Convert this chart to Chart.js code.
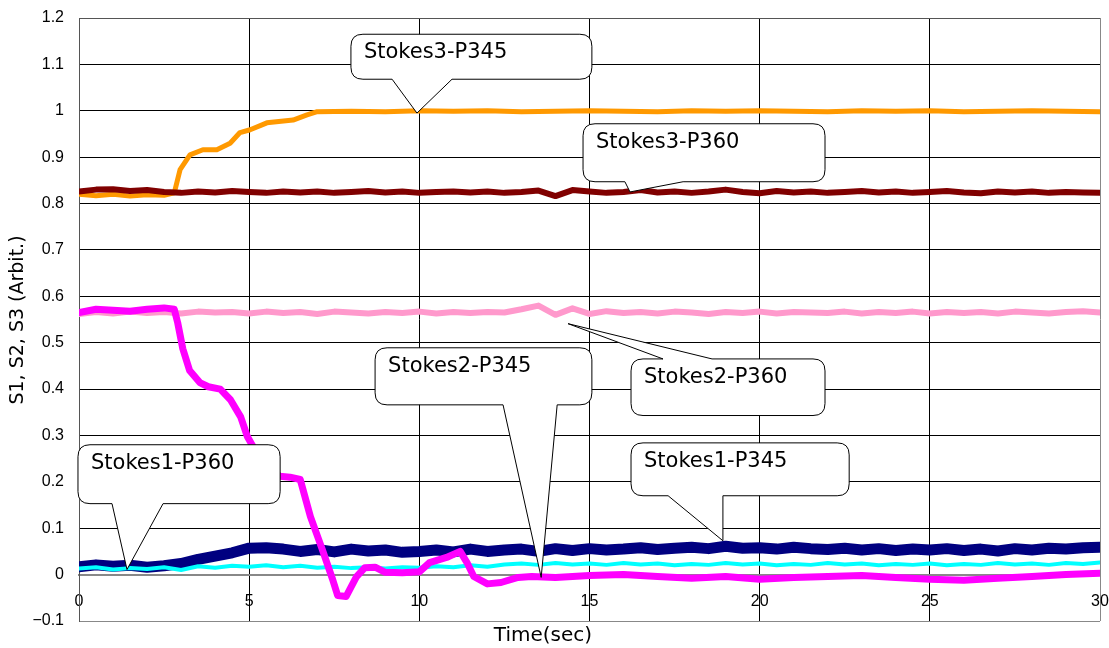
<!DOCTYPE html>
<html>
<head>
<meta charset="utf-8">
<script src="https://cdn.jsdelivr.net/npm/chart.js@4.4.0/dist/chart.umd.min.js"></script>
<style>
  body { margin: 0; background: #fff; }
  canvas { display: block; }
</style>
</head>
<body>
<canvas id="stokes" width="1109" height="648"></canvas>
<script>
// sample times (sec) shared by the noisy, flat traces
var times = [0,0.5,1,1.5,2,2.5,3,3.5,4,4.5,5,5.5,6,6.5,7,7.5,8,8.5,9,9.5,
  10,10.5,11,11.5,12,12.5,13,13.5,14,14.5,15,15.5,16,16.5,17,17.5,18,18.5,19,19.5,
  20,20.5,21,21.5,22,22.5,23,23.5,24,24.5,25,25.5,26,26.5,27,27.5,28,28.5,29,29.5,30];

var s3p360 = [0.826,0.830,0.831,0.827,0.829,0.825,0.823,0.826,0.824,0.827,
  0.825,0.823,0.826,0.824,0.826,0.823,0.825,0.827,0.824,0.826,
  0.823,0.825,0.826,0.824,0.826,0.823,0.825,0.828,0.816,0.829,
  0.826,0.823,0.825,0.829,0.824,0.826,0.823,0.826,0.830,0.825,
  0.822,0.827,0.824,0.826,0.823,0.825,0.827,0.824,0.826,0.823,
  0.825,0.827,0.824,0.822,0.826,0.824,0.826,0.823,0.825,0.824,0.823];

var s2p360 = [0.562,0.566,0.563,0.567,0.564,0.566,0.563,0.567,0.565,0.566,
  0.563,0.567,0.564,0.566,0.562,0.567,0.565,0.563,0.566,0.564,
  0.567,0.563,0.566,0.564,0.566,0.565,0.572,0.580,0.560,0.574,
  0.562,0.568,0.564,0.566,0.563,0.567,0.565,0.562,0.566,0.564,
  0.567,0.563,0.566,0.565,0.564,0.567,0.563,0.566,0.564,0.567,
  0.563,0.566,0.564,0.566,0.563,0.567,0.565,0.563,0.566,0.568,0.565];

var s1p345 = [0.017,0.021,0.018,0.020,0.016,0.019,0.024,0.033,0.040,0.047,
  0.057,0.058,0.055,0.050,0.054,0.049,0.055,0.051,0.053,0.048,
  0.050,0.053,0.049,0.055,0.050,0.053,0.055,0.050,0.056,0.052,
  0.056,0.053,0.055,0.058,0.054,0.057,0.059,0.056,0.061,0.057,
  0.058,0.055,0.059,0.056,0.054,0.057,0.053,0.056,0.052,0.055,
  0.053,0.056,0.052,0.055,0.051,0.056,0.053,0.057,0.055,0.058,0.059];

var s1p360 = [0.013,0.016,0.011,0.014,0.012,0.016,0.010,0.018,0.015,0.019,
  0.017,0.020,0.016,0.019,0.015,0.017,0.014,0.016,0.013,0.016,
  0.015,0.018,0.016,0.020,0.017,0.022,0.024,0.021,0.025,0.022,
  0.024,0.021,0.025,0.022,0.024,0.020,0.023,0.021,0.025,0.022,
  0.024,0.020,0.023,0.021,0.025,0.022,0.024,0.020,0.023,0.021,
  0.024,0.020,0.023,0.021,0.025,0.022,0.024,0.021,0.025,0.023,0.026];

// the two P345 traces that move have their own sample times
var s3p345Times = [0,0.5,1,1.5,2,2.5,2.8,2.97,3.26,3.64,4.05,4.44,4.73,5.03,5.52,6.29,6.7,7,
  8,9,10,11,12,13,14,15,16,17,18,19,20,21,22,23,24,25,26,27,28,29,30];
var s3p345 = [0.820,0.817,0.820,0.816,0.819,0.818,0.823,0.873,0.905,0.916,0.916,0.930,0.953,0.959,0.974,0.980,0.991,0.998,
  0.999,0.998,1.000,0.999,1.000,0.998,0.999,1.000,0.999,0.998,1.000,0.999,1.000,0.999,0.998,1.000,0.999,1.000,0.998,0.999,1.000,0.999,0.998];

var s2p345Times = [0,0.5,1,1.5,2,2.5,2.8,2.9,3.05,3.25,
  3.55,3.8,4.15,4.45,4.75,4.95,5.2,5.5,5.9,6.2,
  6.5,6.8,7.15,7.45,7.6,7.85,8.15,8.4,8.7,9,
  9.5,10,10.3,10.8,11.2,11.4,11.6,12,12.4,12.9,
  13.3,14,15,16,17,18,19,20,21,22,
  23,24,25,26,27,28,29,30];
var s2p345 = [0.565,0.572,0.570,0.568,0.572,0.575,0.572,0.543,0.487,0.440,
  0.414,0.405,0.400,0.377,0.340,0.297,0.265,0.238,0.212,0.210,
  0.205,0.125,0.054,-0.010,-0.045,-0.047,-0.005,0.015,0.016,0.005,
  0.004,0.006,0.026,0.037,0.050,0.026,-0.004,-0.020,-0.017,-0.006,
  -0.004,-0.006,-0.002,0.000,-0.004,-0.008,-0.004,-0.010,-0.006,-0.004,
  -0.002,-0.006,-0.010,-0.012,-0.008,-0.004,0.000,0.003];

var xTicks = [0, 5, 10, 15, 20, 25, 30];

// callout boxes, in data units: box = [left, top, right, bottom]
var callouts = [
  { label: 'Stokes3-P345', box: [7.99, 1.165, 15.07, 1.068], edge: 'bottom', base: [9.20, 10.96], tip: [9.93, 0.995] },
  { label: 'Stokes3-P360', box: [14.81, 0.972, 21.92, 0.847], edge: 'bottom', base: [16.04, 17.75], tip: [16.19, 0.825] },
  { label: 'Stokes2-P360', box: [16.22, 0.465, 21.92, 0.343], edge: 'top', base: [17.16, 18.60], tip: [14.37, 0.541] },
  { label: 'Stokes2-P345', box: [8.70, 0.489, 15.07, 0.366], edge: 'bottom', base: [12.46, 14.05], tip: [13.58, -0.006] },
  { label: 'Stokes1-P360', box: [-0.03, 0.280, 5.91, 0.153], edge: 'bottom', base: [0.97, 2.47], tip: [1.41, 0.011] },
  { label: 'Stokes1-P345', box: [16.22, 0.284, 22.63, 0.170], edge: 'bottom', base: [17.31, 18.92], tip: [18.92, 0.073] }
];

function pts(xs, ys) {
  return xs.map(function (x, i) { return { x: x, y: ys[i] }; });
}

var calloutPlugin = {
  id: 'callouts',
  afterDatasetsDraw: function (chart) {
    var ctx = chart.ctx, xs = chart.scales.x, ys = chart.scales.y;
    callouts.forEach(function (c) {
      var l = xs.getPixelForValue(c.box[0]), r = xs.getPixelForValue(c.box[2]);
      var t = ys.getPixelForValue(c.box[1]), b = ys.getPixelForValue(c.box[3]);
      var p1 = xs.getPixelForValue(c.base[0]), p2 = xs.getPixelForValue(c.base[1]);
      var tx = xs.getPixelForValue(c.tip[0]), ty = ys.getPixelForValue(c.tip[1]);
      var rad = 12;
      ctx.save();
      ctx.beginPath();
      ctx.moveTo(l + rad, t);
      if (c.edge === 'top') { ctx.lineTo(p1, t); ctx.lineTo(tx, ty); ctx.lineTo(p2, t); }
      ctx.lineTo(r - rad, t);
      ctx.quadraticCurveTo(r, t, r, t + rad);
      ctx.lineTo(r, b - rad);
      ctx.quadraticCurveTo(r, b, r - rad, b);
      if (c.edge === 'bottom') { ctx.lineTo(p2, b); ctx.lineTo(tx, ty); ctx.lineTo(p1, b); }
      ctx.lineTo(l + rad, b);
      ctx.quadraticCurveTo(l, b, l, b - rad);
      ctx.lineTo(l, t + rad);
      ctx.quadraticCurveTo(l, t, l + rad, t);
      ctx.closePath();
      ctx.fillStyle = '#fff';
      ctx.fill();
      ctx.strokeStyle = '#000';
      ctx.lineWidth = 1;
      ctx.stroke();
      ctx.fillStyle = '#000';
      ctx.font = '21px "DejaVu Sans"';
      ctx.textBaseline = 'alphabetic';
      ctx.textAlign = 'left';
      ctx.fillText(c.label, l + 13, t + 24);
      ctx.restore();
    });
  },
  afterDraw: function (chart) {
    var ctx = chart.ctx;
    ctx.save();
    ctx.fillStyle = '#000';
    ctx.font = '20px "DejaVu Sans"';
    ctx.textAlign = 'center';
    ctx.textBaseline = 'middle';
    ctx.fillText('Time(sec)', 543, 636);
    ctx.font = '19px "DejaVu Sans"';
    ctx.translate(18, 320);
    ctx.rotate(-Math.PI / 2);
    ctx.fillText('S1, S2, S3 (Arbit.)', 0, 0);
    ctx.restore();
  }
};

var ctx = document.getElementById('stokes').getContext('2d');
var chart = new Chart(ctx, {
  type: 'line',
  data: {
    datasets: [
      { label: 'Stokes2-P345', data: pts(s2p345Times, s2p345), borderColor: '#FF00FF', borderWidth: 7, order: 1 },
      { label: 'Stokes1-P360', data: pts(times, s1p360), borderColor: '#00FFFF', borderWidth: 4, order: 2 },
      { label: 'Stokes1-P345', data: pts(times, s1p345), borderColor: '#000080', borderWidth: 11, order: 3 },
      { label: 'Stokes2-P360', data: pts(times, s2p360), borderColor: '#FF99CC', borderWidth: 6, order: 4 },
      { label: 'Stokes3-P360', data: pts(times, s3p360), borderColor: '#800000', borderWidth: 6, order: 5 },
      { label: 'Stokes3-P345', data: pts(s3p345Times, s3p345), borderColor: '#FF9900', borderWidth: 5, order: 6 }
    ]
  },
  options: {
    responsive: false,
    animation: false,
    elements: { point: { radius: 0 }, line: { tension: 0, borderCapStyle: 'round', borderJoinStyle: 'round' } },
    layout: { padding: { left: 0, right: 9, top: 18, bottom: 27 } },
    plugins: { legend: { display: false }, tooltip: { enabled: false } },
    scales: {
      x: {
        type: 'linear',
        position: { y: 0 },
        min: 0,
        max: 30,
        afterFit: function (s) { s.height = 0; s.paddingLeft = 0; s.paddingRight = 0; },
        afterBuildTicks: function (s) { s.ticks = xTicks.map(function (v) { return { value: v }; }); },
        ticks: { padding: 17, color: '#000', font: { family: '"Liberation Sans", Arial, sans-serif', size: 16 }, maxRotation: 0, autoSkip: false },
        grid: {
          drawTicks: false,
          lineWidth: 1,
          color: function (c) {
            if (c.tick && c.tick.value === 30) return '#888';
            if (c.tick && c.tick.value === 0) return '#555';
            return '#000';
          }
        },
        border: { color: '#888', width: 2 }
      },
      y: {
        min: -0.1,
        max: 1.2,
        afterFit: function (s) { s.width = 79; s.paddingTop = 0; s.paddingBottom = 0; },
        ticks: {
          stepSize: 0.1,
          padding: 15,
          color: '#000',
          font: { family: '"Liberation Sans", Arial, sans-serif', size: 16 },
          callback: function (v) {
            var r = Math.round(v * 10) / 10;
            return r < 0 ? '\u2212' + Math.abs(r) : String(r);
          }
        },
        grid: {
          drawTicks: false,
          color: function (c) {
            var v = c.tick ? c.tick.value : 1;
            if (Math.abs(v) < 1e-9 || v < -0.05) return '#888';
            if (v > 1.15) return '#555';
            return '#000';
          },
          lineWidth: function (c) {
            var v = c.tick ? c.tick.value : 1;
            return Math.abs(v) < 1e-9 ? 2 : 1;
          }
        },
        border: { color: '#555', width: 1 }
      }
    }
  },
  plugins: [calloutPlugin]
});
</script>
</body>
</html>
